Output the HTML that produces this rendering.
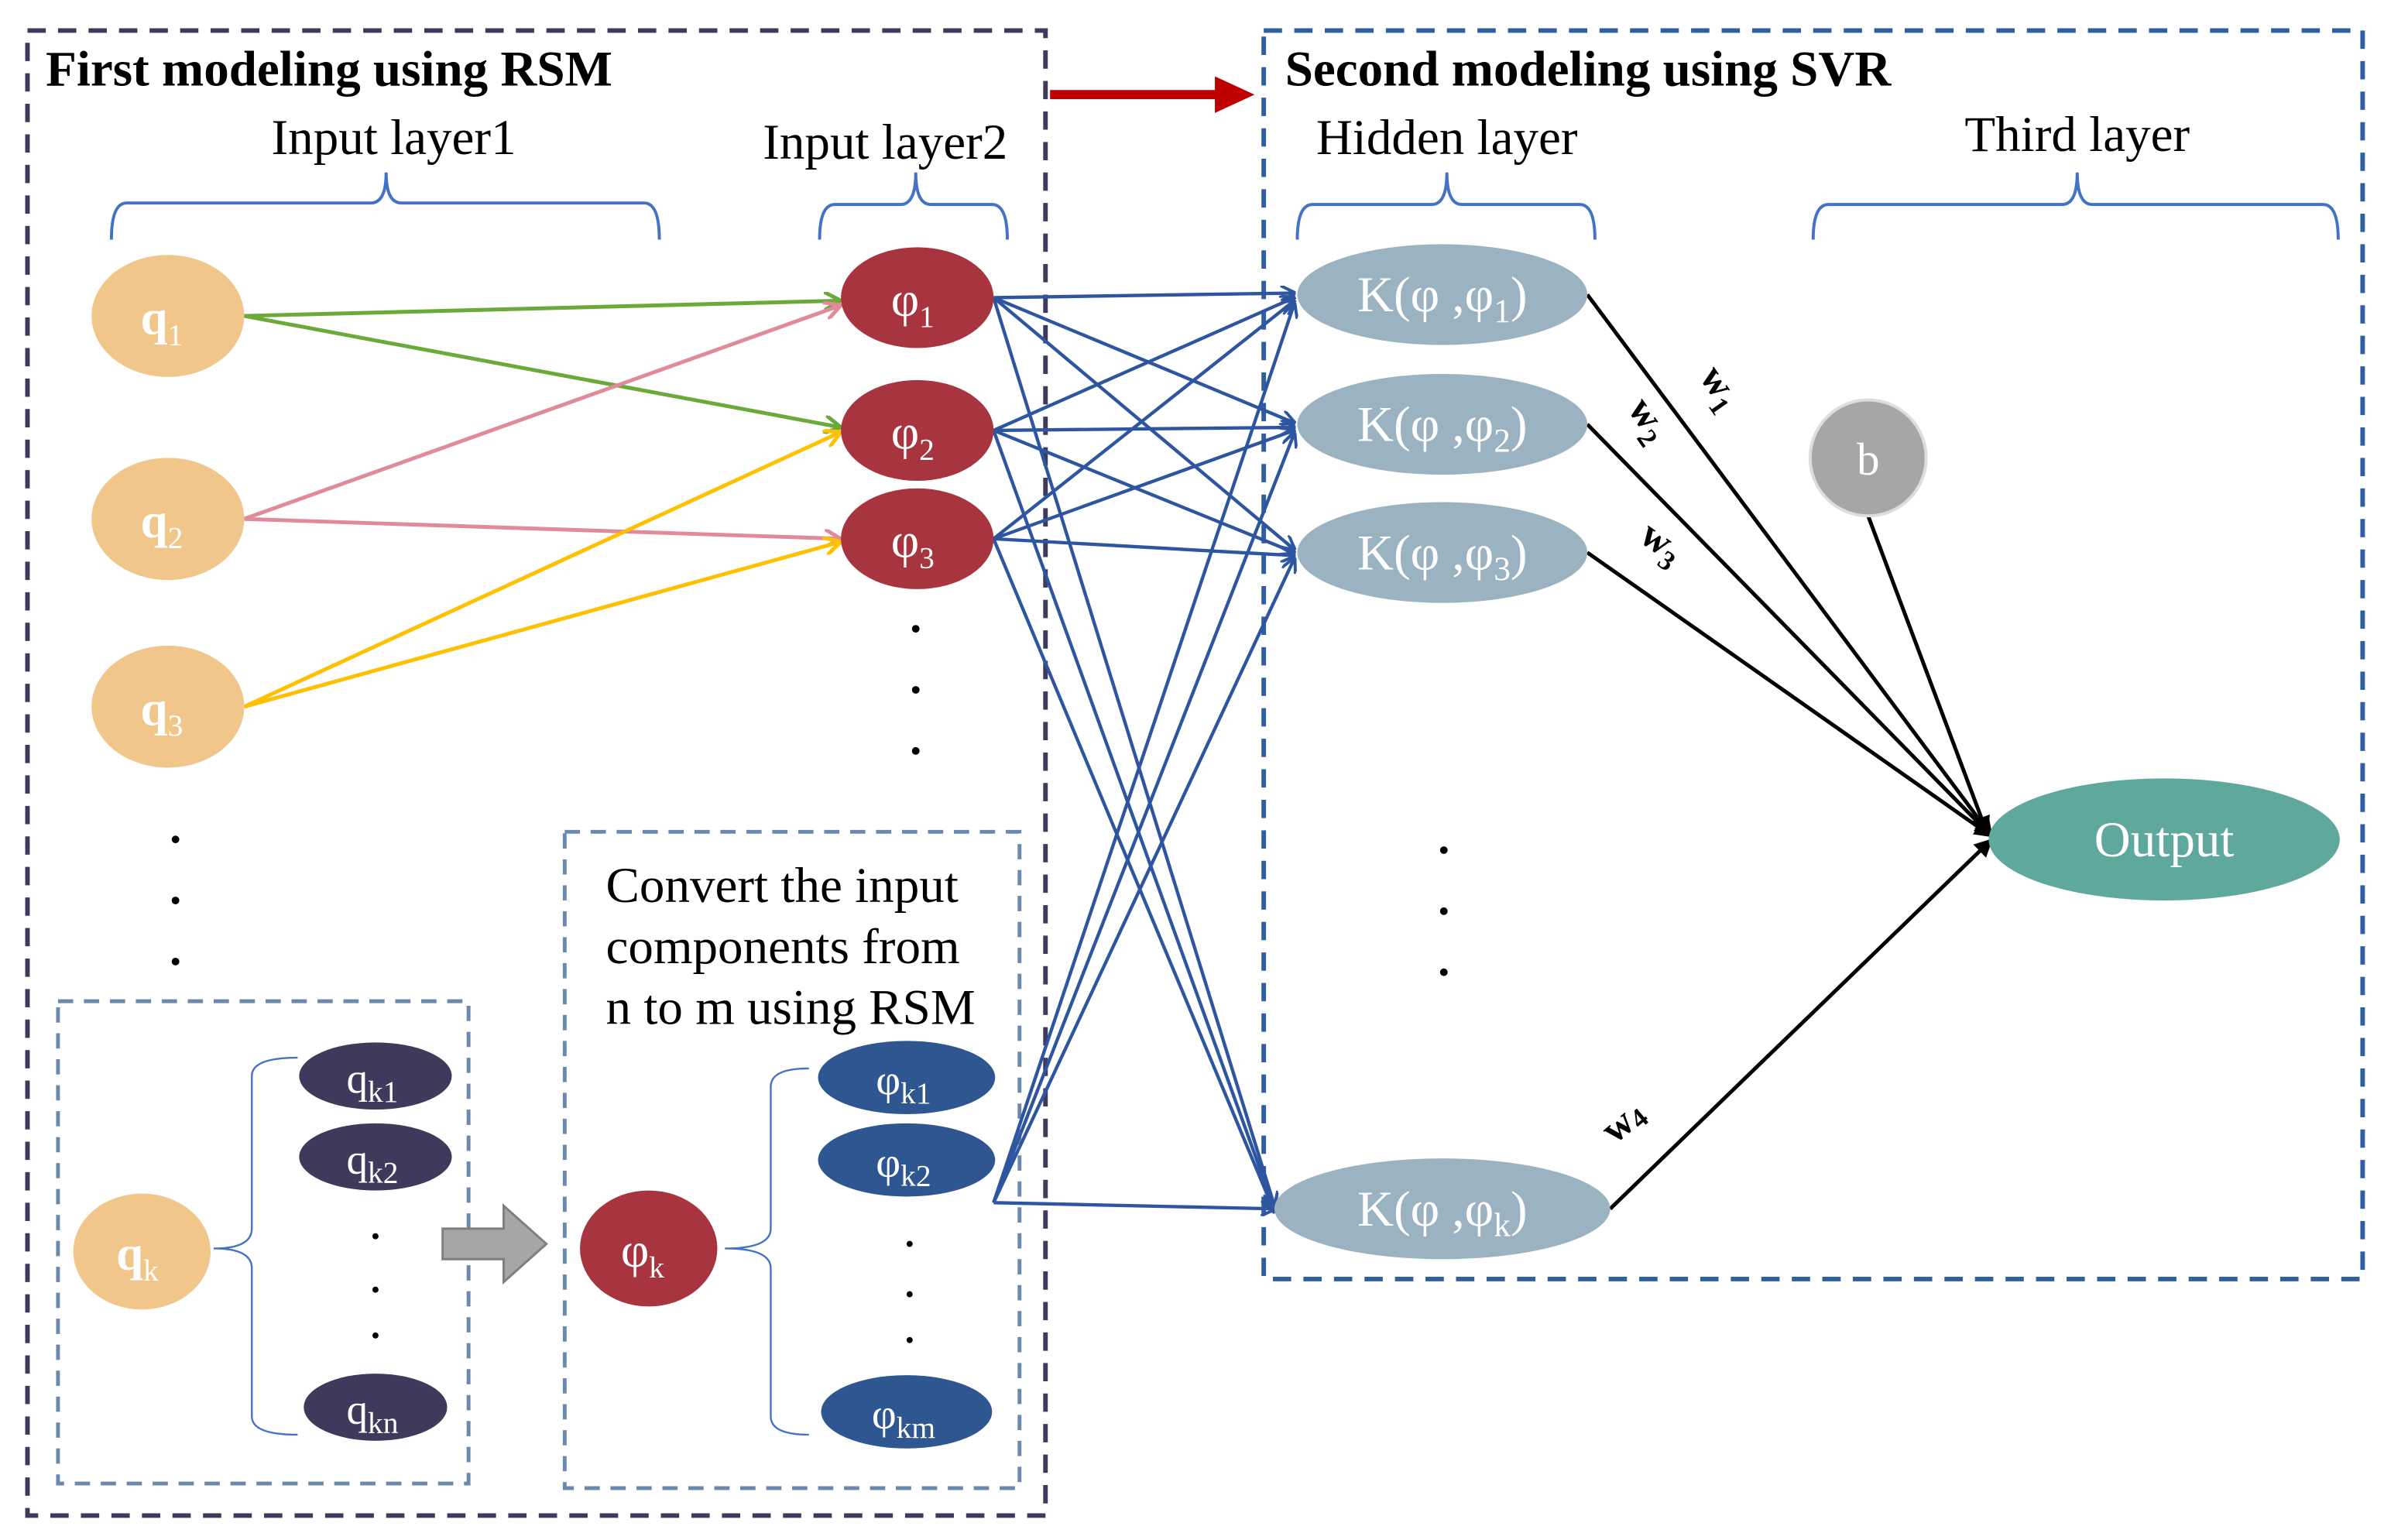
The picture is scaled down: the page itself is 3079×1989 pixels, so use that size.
<!DOCTYPE html>
<html><head><meta charset="utf-8"><style>html,body{margin:0;padding:0;background:#fff}svg{display:block}text{font-family:"Liberation Serif",serif}</style></head><body>
<svg width="3079" height="1989" viewBox="0 0 1562 1009" preserveAspectRatio="none" xmlns="http://www.w3.org/2000/svg">
<defs>
<marker id="ab" markerWidth="10" markerHeight="10" refX="9" refY="5" orient="auto" markerUnits="userSpaceOnUse"><path d="M0,0 L10,5 L0,10" fill="none" stroke="#2e55a0" stroke-width="2"/></marker>
<marker id="ag" markerWidth="12" markerHeight="12" refX="11" refY="6" orient="auto" markerUnits="userSpaceOnUse"><path d="M0,0 L11,6 L0,12" fill="none" stroke="#6aaa3a" stroke-width="2.5"/></marker>
<marker id="ap" markerWidth="12" markerHeight="12" refX="11" refY="6" orient="auto" markerUnits="userSpaceOnUse"><path d="M0,0 L11,6 L0,12" fill="none" stroke="#e08a9a" stroke-width="2.5"/></marker>
<marker id="ay" markerWidth="12" markerHeight="12" refX="11" refY="6" orient="auto" markerUnits="userSpaceOnUse"><path d="M0,0 L11,6 L0,12" fill="none" stroke="#ffc000" stroke-width="2.5"/></marker>
<marker id="ak" markerWidth="12" markerHeight="12" refX="11" refY="6" orient="auto" markerUnits="userSpaceOnUse"><path d="M0,0 L12,6 L0,12 Z" fill="#000"/></marker>
</defs>
<rect x="18" y="20" width="667" height="973" fill="none" stroke="#3d3a5c" stroke-width="3" stroke-dasharray="12,8"/>
<rect x="828" y="20" width="720" height="818" fill="none" stroke="#2e5fa0" stroke-width="3" stroke-dasharray="12,8"/>
<rect x="38" y="656" width="269" height="316" fill="none" stroke="#6b89ad" stroke-width="2.5" stroke-dasharray="10,7"/>
<rect x="370" y="545" width="298" height="430" fill="none" stroke="#6b89ad" stroke-width="2.5" stroke-dasharray="10,7"/>
<line x1="688" y1="62" x2="800" y2="62" stroke="#c00000" stroke-width="6"/>
<path d="M796,50 L822,62 L796,74 Z" fill="#c00000"/>
<text x="30" y="56" font-size="33" font-weight="bold">First modeling using RSM</text>
<text x="842" y="56" font-size="33" font-weight="bold">Second modeling using SVR</text>
<g font-size="33" text-anchor="middle">
<text x="258" y="101">Input layer1</text><text x="580" y="104">Input layer2</text>
<text x="948" y="101">Hidden layer</text><text x="1361" y="99">Third layer</text></g>
<g fill="none" stroke="#4472c4" stroke-width="2">
<path d="M73,157 Q73,133 83,133 L243,133 Q253,133 253,113 Q253,133 263,133 L422,133 Q432,133 432,157"/>
<path d="M537,157 Q537,134 547,134 L590,134 Q600,134 600,113 Q600,134 610,134 L650,134 Q660,134 660,157"/>
<path d="M850,157 Q850,134 860,134 L938,134 Q948,134 948,113 Q948,134 958,134 L1035,134 Q1045,134 1045,157"/>
<path d="M1188,157 Q1188,134 1198,134 L1351,134 Q1361,134 1361,113 Q1361,134 1371,134 L1522,134 Q1532,134 1532,157"/>
</g>
<g fill="none" stroke="#4472c4" stroke-width="1.2">
<path d="M195,693 Q165,693 165,705 L165,805 Q165,818 140,818 Q165,818 165,831 L165,928 Q165,940 195,940"/>
<path d="M530,700 Q505,700 505,712 L505,805 Q505,818 475,818 Q505,818 505,831 L505,928 Q505,940 530,940"/>
</g>
<line x1="160" y1="207" x2="551" y2="197" stroke="#6aaa3a" stroke-width="2.5" marker-end="url(#ag)"/>
<line x1="160" y1="207" x2="551" y2="280" stroke="#6aaa3a" stroke-width="2.5" marker-end="url(#ag)"/>
<line x1="160" y1="340" x2="551" y2="200" stroke="#e08a9a" stroke-width="2.5" marker-end="url(#ap)"/>
<line x1="160" y1="340" x2="551" y2="353" stroke="#e08a9a" stroke-width="2.5" marker-end="url(#ap)"/>
<line x1="160" y1="463" x2="551" y2="283" stroke="#ffc000" stroke-width="2.5" marker-end="url(#ay)"/>
<line x1="160" y1="463" x2="551" y2="355" stroke="#ffc000" stroke-width="2.5" marker-end="url(#ay)"/>
<g stroke="#2e55a0" stroke-width="2.2" marker-end="url(#ab)">
<line x1="651" y1="195" x2="848" y2="192"/><line x1="651" y1="195" x2="848" y2="277"/><line x1="651" y1="195" x2="848" y2="360"/><line x1="651" y1="195" x2="835" y2="790"/>
<line x1="651" y1="282" x2="848" y2="195"/><line x1="651" y1="282" x2="848" y2="280"/><line x1="651" y1="282" x2="848" y2="362"/><line x1="651" y1="282" x2="835" y2="792"/>
<line x1="651" y1="353" x2="848" y2="197"/><line x1="651" y1="353" x2="848" y2="282"/><line x1="651" y1="353" x2="848" y2="364"/><line x1="651" y1="353" x2="835" y2="794"/>
<line x1="651" y1="788" x2="848" y2="199"/><line x1="651" y1="788" x2="848" y2="284"/><line x1="651" y1="788" x2="848" y2="366"/><line x1="651" y1="788" x2="835" y2="792"/>
</g>
<g stroke="#000" stroke-width="2.5" marker-end="url(#ak)">
<line x1="1040" y1="193" x2="1305" y2="548"/><line x1="1040" y1="278" x2="1305" y2="548"/><line x1="1040" y1="362" x2="1305" y2="548"/><line x1="1055" y1="792" x2="1305" y2="550"/><line x1="1224" y1="338" x2="1302" y2="546"/>
</g>
<g font-size="26" font-weight="bold">
<text transform="translate(1113,247) rotate(55)">w<tspan font-size="18" dy="6">1</tspan></text>
<text transform="translate(1066,268) rotate(55)">w<tspan font-size="18" dy="6">2</tspan></text>
<text transform="translate(1073,354) rotate(35)">w<tspan font-size="18" dy="6">3</tspan></text>
<text transform="translate(1058,750) rotate(-40)">w<tspan font-size="18" dy="3">4</tspan></text>
</g>
<g fill="#f0c68a"><ellipse cx="110" cy="207" rx="50" ry="40"/><ellipse cx="110" cy="340" rx="50" ry="40"/><ellipse cx="110" cy="463" rx="50" ry="40"/><ellipse cx="93" cy="820" rx="45" ry="38"/></g>
<g fill="#a8343f"><ellipse cx="601" cy="195" rx="50" ry="33"/><ellipse cx="601" cy="282" rx="50" ry="33"/><ellipse cx="601" cy="353" rx="50" ry="33"/><ellipse cx="425" cy="818" rx="45" ry="38"/></g>
<g fill="#3d3a5c"><ellipse cx="246" cy="705" rx="50" ry="22"/><ellipse cx="246" cy="758" rx="50" ry="22"/><ellipse cx="246" cy="922" rx="47" ry="22"/></g>
<g fill="#2e5690"><ellipse cx="594" cy="706" rx="58" ry="24"/><ellipse cx="594" cy="760" rx="58" ry="24"/><ellipse cx="594" cy="925" rx="56" ry="24"/></g>
<g fill="#9bb3c1"><ellipse cx="945" cy="193" rx="95" ry="33"/><ellipse cx="945" cy="278" rx="95" ry="33"/><ellipse cx="945" cy="362" rx="95" ry="33"/><ellipse cx="945" cy="792" rx="110" ry="33"/></g>
<circle cx="1224" cy="300" r="38" fill="#a6a6a6" stroke="#ddd" stroke-width="2"/>
<ellipse cx="1418" cy="550" rx="115" ry="40" fill="#5fa89c"/>
<path d="M290,805 L330,805 L330,790 L358,815 L330,840 L330,825 L290,825 Z" fill="#a6a6a6" stroke="#7f7f7f" stroke-width="1.5"/>
<g fill="#fff" text-anchor="middle" font-size="32">
<text x="106" y="219" font-weight="bold">q<tspan font-size="20" dy="7" font-weight="normal">1</tspan></text>
<text x="106" y="352" font-weight="bold">q<tspan font-size="20" dy="7" font-weight="normal">2</tspan></text>
<text x="106" y="475" font-weight="bold">q<tspan font-size="20" dy="7" font-weight="normal">3</tspan></text>
<text x="90" y="832" font-weight="bold">q<tspan font-size="20" dy="7" font-weight="normal">k</tspan></text>
<text x="598" y="207">φ<tspan font-size="20" dy="7">1</tspan></text>
<text x="598" y="294">φ<tspan font-size="20" dy="7">2</tspan></text>
<text x="598" y="365">φ<tspan font-size="20" dy="7">3</tspan></text>
<text x="421" y="830">φ<tspan font-size="20" dy="7">k</tspan></text>
<text x="244" y="716" font-size="28">q<tspan font-size="20" dy="6">k1</tspan></text>
<text x="244" y="769" font-size="28">q<tspan font-size="20" dy="6">k2</tspan></text>
<text x="244" y="933" font-size="28">q<tspan font-size="20" dy="6">kn</tspan></text>
<text x="592" y="717" font-size="28">φ<tspan font-size="20" dy="6">k1</tspan></text>
<text x="592" y="771" font-size="28">φ<tspan font-size="20" dy="6">k2</tspan></text>
<text x="592" y="936" font-size="28">φ<tspan font-size="20" dy="6">km</tspan></text>
<text x="945" y="204" font-size="33">K(φ ,φ<tspan font-size="22" dy="7">1</tspan><tspan dy="-7">)</tspan></text>
<text x="945" y="289" font-size="33">K(φ ,φ<tspan font-size="22" dy="7">2</tspan><tspan dy="-7">)</tspan></text>
<text x="945" y="373" font-size="33">K(φ ,φ<tspan font-size="22" dy="7">3</tspan><tspan dy="-7">)</tspan></text>
<text x="945" y="803" font-size="33">K(φ ,φ<tspan font-size="22" dy="7">k</tspan><tspan dy="-7">)</tspan></text>
<text x="1224" y="311" font-size="30">b</text>
<text x="1418" y="561" font-size="33">Output</text>
</g>
<g font-size="33"><text x="397" y="591">Convert the input</text><text x="397" y="631">components from</text><text x="397" y="671">n to m using RSM</text></g>
<g fill="#000">
<circle cx="115" cy="550" r="2.5"/><circle cx="115" cy="590" r="2.5"/><circle cx="115" cy="630" r="2.5"/>
<circle cx="600" cy="412" r="2.5"/><circle cx="600" cy="452" r="2.5"/><circle cx="600" cy="492" r="2.5"/>
<circle cx="246" cy="810" r="2"/><circle cx="246" cy="845" r="2"/><circle cx="246" cy="875" r="2"/>
<circle cx="596" cy="815" r="2"/><circle cx="596" cy="848" r="2"/><circle cx="596" cy="878" r="2"/>
<circle cx="946" cy="557" r="2.5"/><circle cx="946" cy="597" r="2.5"/><circle cx="946" cy="637" r="2.5"/>
</g>
</svg>
</body></html>
